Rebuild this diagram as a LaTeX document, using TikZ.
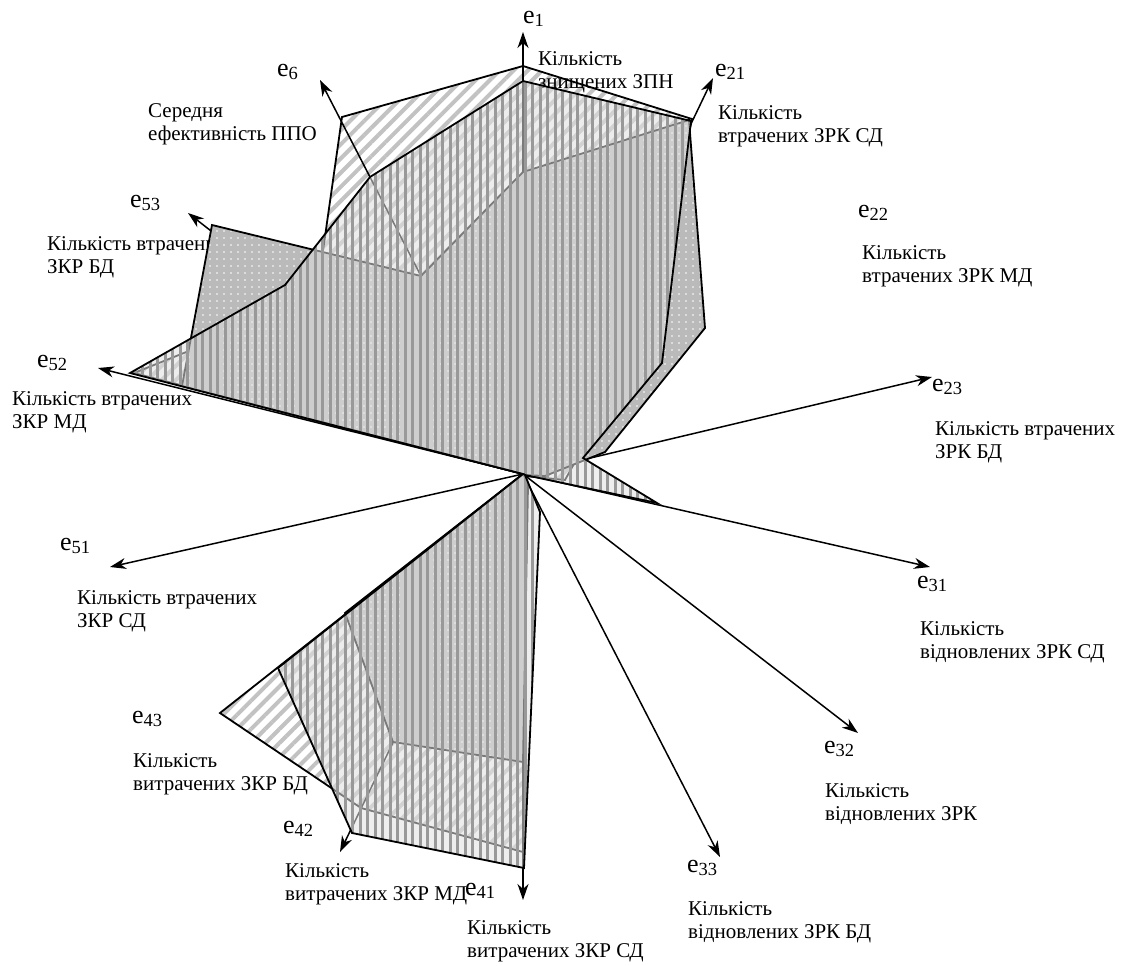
\documentclass[tikz,border=0pt]{standalone}
\usepackage{fontspec}
\setmainfont{Liberation Serif}
\usetikzlibrary{patterns.meta,arrows.meta}
\newcommand\ESub[1]{e\raisebox{-3pt}{\fontsize{18.5}{18.5}\selectfont #1}}
\tikzset{
  axisarrow/.style={line width=1.5pt,-{Stealth[length=16pt,width=11pt,inset=5pt]}},
  txt/.style={anchor=north west,inner sep=0pt,align=left,font=\fontsize{21}{23.5}\selectfont},
  elab/.style={anchor=base west,inner sep=0pt,font=\fontsize{26}{28}\selectfont},
  edge/.style={line width=1.8pt,line join=miter,miter limit=6},
  Apath/.style={insert path={(523,66) -- (692,119) -- (634,385) -- (575,462) -- (565,480) -- (525,476) -- (525,482) -- (523,852) -- (361,808) -- (220,713) -- (523,474) -- (134,373) -- (316,300) -- (342,117) -- cycle}},
  Bpath/.style={insert path={(523,172) -- (689,120) -- (705,328) -- (605,452) -- (545,476) -- (524,475) -- (528,486) -- (523,762) -- (393,742) -- (345,613) -- (523,474) -- (182,386) -- (212,225) -- (421,276) -- cycle}},
  Cpath/.style={insert path={(523,81) -- (691,121) -- (662,363) -- (583,458) -- (657,503) -- (525,475) -- (540,512) -- (524,868) -- (352,833) -- (278,668) -- (523,474) -- (130,373) -- (285,285) -- (370,177) -- cycle}},
  hatchA/.style={pattern={Lines[angle=45,distance=10pt,line width=4pt]},pattern color=black!24},
  dotsB/.style={pattern={Dots[distance=7pt,radius=0.8pt]},pattern color=white},
  stripesC/.style={pattern={Lines[angle=90,distance=7.5pt,line width=3pt]},pattern color=black!40}
}
\begin{document}
\begin{tikzpicture}[x=1pt,y=-1pt]
\useasboundingbox (0,0) rectangle (1128,966);
% axis labels
\node[elab] (l1) at (523,24) {\ESub{1}};
\node[elab] (l21) at (715,77) {\ESub{21}};
\node[elab] (l22) at (858,217) {\ESub{22}};
\node[elab] (l23) at (932,391) {\ESub{23}};
\node[elab] (l31) at (917,588) {\ESub{31}};
\node[elab] (l32) at (824,753) {\ESub{32}};
\node[elab] (l33) at (687,872) {\ESub{33}};
\node[elab] (l41) at (465,895) {\ESub{41}};
\node[elab] (l42) at (283,833) {\ESub{42}};
\node[elab] (l43) at (132,723) {\ESub{43}};
\node[elab] (l51) at (60,550) {\ESub{51}};
\node[elab] (l52) at (37,367) {\ESub{52}};
\node[elab] (l53) at (130,207) {\ESub{53}};
\node[elab] (l6) at (277,77) {\ESub{6}};
% descriptions
\node[txt] (d21) at (718,105) {Кількість\\втрачених ЗРК СД};
\node[txt] (d22) at (862,245) {Кількість\\втрачених ЗРК МД};
\node[txt] (d23) at (935,421) {Кількість втрачених\\ЗРК БД};
\node[txt] (d31) at (920,621) {Кількість\\відновлених ЗРК СД};
\node[txt] (d32) at (825,783) {Кількість\\відновлених ЗРК};
\node[txt] (d33) at (688,901) {Кількість\\відновлених ЗРК БД};
\node[txt] (d41) at (467,920) {Кількість\\витрачених ЗКР СД};
\node[txt] (d42) at (285,863) {Кількість\\витрачених ЗКР МД};
\node[txt] (d43) at (133,753) {Кількість\\витрачених ЗКР БД};
\node[txt] (d51) at (77,590) {Кількість втрачених\\ЗКР СД};
\node[txt] (d52) at (12,391) {Кількість втрачених\\ЗКР МД};
\node[txt] (d53) at (47,236) {Кількість втрачених\\ЗКР БД};
\node[txt] (d6) at (148,103) {Середня\\ефективність ППО};
% polygon A (diagonal hatch)
\fill[white,Apath];
\fill[hatchA,Apath];
\draw[edge,Apath];
\node[txt] (d1) at (538,51) {Кількість\\знищених ЗПН};
% axes
\coordinate (O) at (523,474);
\coordinate (a1) at (523,32);
\coordinate (a21) at (713,78);
\coordinate (a23) at (932,377);
\coordinate (a31) at (930,567);
\coordinate (a32) at (858,733);
\coordinate (a33) at (720,857);
\coordinate (a41) at (523,900);
\coordinate (a42) at (340,852);
\coordinate (a51) at (110,567);
\coordinate (a52) at (98,368);
\coordinate (a53) at (188,213);
\coordinate (a6) at (320,80);
\foreach \t in {a1,a21,a23,a31,a32,a33,a41,a42,a51,a52,a53,a6}
  \draw[axisarrow] (O) -- (\t);
% polygon B (dotted grey)
\fill[black!27,Bpath];
\fill[dotsB,Bpath];
\draw[edge,Bpath];
% polygon C (vertical stripes, see-through)
\fill[black!12,fill opacity=0.55,Cpath];
\fill[stripesC,Cpath];
\draw[edge,Cpath];
\end{tikzpicture}
\end{document}
